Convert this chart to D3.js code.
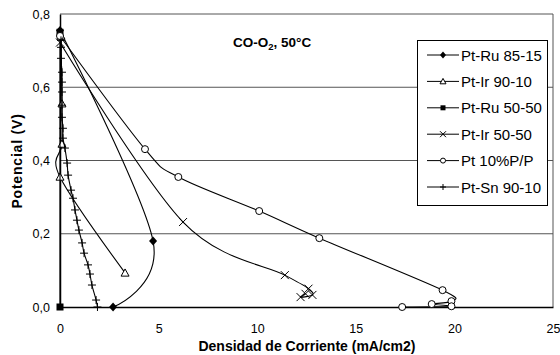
<!DOCTYPE html>
<html>
<head>
<meta charset="utf-8">
<script src="https://cdn.jsdelivr.net/npm/d3@7"></script>
<style>
  body { margin: 0; background: #fff; }
  text { font-family: "Liberation Sans", Arial, sans-serif; fill: #000; }
</style>
</head>
<body>
<svg id="chart"></svg>
<script>
// Data: [current density (mA/cm2), potential (V)]
const ptRu8515 = [[0, 0.755], [4.72, 0.18], [2.69, 0.0]];
const ptIr9010 = [[0.05, 0.74], [0.1, 0.555], [0.1, 0.445], [0.0, 0.355], [3.3, 0.093]];
const ptRu5050 = [[0, 0.75], [0, 0.0]];
const ptIr5050 = [[0, 0.722], [6.24, 0.232], [11.4, 0.087], [12.6, 0.05], [12.8, 0.033], [12.2, 0.027], [12.45, 0.036]];
const pt10 = [[0, 0.74], [4.31, 0.431], [6.0, 0.355], [10.1, 0.262], [13.15, 0.188], [19.4, 0.046], [19.85, 0.016], [18.85, 0.008], [19.85, 0.002], [17.35, 0.0]];
const ptSn9010 = [[0.05, 0.728], [0.05, 0.709], [0.05, 0.679], [0.1, 0.641], [0.1, 0.614], [0.1, 0.587], [0.1, 0.551],
  [0.1, 0.518], [0.15, 0.488], [0.15, 0.461], [0.25, 0.434], [0.36, 0.393], [0.41, 0.36], [0.56, 0.319], [0.66, 0.297],
  [0.76, 0.265], [0.86, 0.237], [0.96, 0.21], [1.12, 0.175], [1.22, 0.147], [1.42, 0.115], [1.52, 0.09], [1.62, 0.06],
  [1.83, 0.019], [1.9, 0.0]];

const seriesNames = ["Pt-Ru 85-15", "Pt-Ir 90-10", "Pt-Ru 50-50", "Pt-Ir 50-50", "Pt 10%P/P", "Pt-Sn 90-10"];
const seriesMarkers = ["diamond", "triangle", "square", "x", "circle", "plus"];
const seriesData = [ptRu8515, ptIr9010, ptRu5050, ptIr5050, pt10, ptSn9010];
const xTicks = [0, 5, 10, 15, 20, 25];
const yTicks = [0, 0.2, 0.4, 0.6, 0.8];

const width = 560, height = 355;
const svg = d3.select("#chart").attr("width", width).attr("height", height);

const x = d3.scaleLinear().domain([0, 25]).range([60, 553]);
const y = d3.scaleLinear().domain([0, 0.8]).range([307, 14]);
const fmtY = d => d3.format(".1f")(d).replace(".", ",");

// gridlines
svg.append("g").selectAll("line")
  .data(yTicks.filter(d => d > 0))
  .enter().append("line")
  .attr("x1", x(0)).attr("x2", x(25))
  .attr("y1", d => y(d)).attr("y2", d => y(d))
  .attr("stroke", "#555").attr("stroke-width", 1);

// plot area right border
svg.append("line")
  .attr("x1", x(25)).attr("x2", x(25)).attr("y1", y(0.8)).attr("y2", y(0))
  .attr("stroke", "#555");

// axes
const xAxis = svg.append("g").attr("transform", `translate(0,${y(0)})`)
  .call(d3.axisBottom(x).tickValues(xTicks).tickSize(0).tickPadding(17).tickFormat(d3.format("d")));
const yAxis = svg.append("g").attr("transform", `translate(${x(0)},0)`)
  .call(d3.axisLeft(y).tickValues(yTicks).tickSize(0).tickPadding(10).tickFormat(fmtY));
[xAxis, yAxis].forEach(a => {
  a.select(".domain").attr("stroke", "#000").attr("stroke-width", 1.5);
  a.selectAll("text").style("font-size", "12.5px").style("font-family", "Liberation Sans, Arial, sans-serif");
});

// marker shapes
function marker(g, type, s, cx, cy) {
  const h = s / 2;
  if (type === "diamond") {
    g.append("path").attr("d", `M${cx},${cy - h - 0.5}L${cx + h},${cy}L${cx},${cy + h + 0.5}L${cx - h},${cy}Z`).attr("fill", "#000");
  } else if (type === "triangle") {
    g.append("path").attr("d", `M${cx},${cy - h}L${cx + h},${cy + h * 0.8}L${cx - h},${cy + h * 0.8}Z`)
      .attr("fill", "#fff").attr("stroke", "#000").attr("stroke-width", 1);
  } else if (type === "square") {
    g.append("rect").attr("x", cx - h + 0.5).attr("y", cy - h + 0.5).attr("width", s - 1).attr("height", s - 1).attr("fill", "#000");
  } else if (type === "x") {
    g.append("path").attr("d", `M${cx - h},${cy - h}L${cx + h},${cy + h}M${cx - h},${cy + h}L${cx + h},${cy - h}`)
      .attr("stroke", "#000").attr("stroke-width", 1);
  } else if (type === "circle") {
    g.append("circle").attr("cx", cx).attr("cy", cy).attr("r", h - 0.5)
      .attr("fill", "#fff").attr("stroke", "#000").attr("stroke-width", 1);
  } else if (type === "plus") {
    g.append("path").attr("d", `M${cx - h},${cy}L${cx + h},${cy}M${cx},${cy - h}L${cx},${cy + h}`)
      .attr("stroke", "#000").attr("stroke-width", 1);
  }
}

// smoothed lines like the spreadsheet's
const line = d3.line()
  .x(d => x(d[0]))
  .y(d => y(d[1]))
  .curve(d3.curveCardinal.tension(0));

seriesData.forEach((data, i) => {
  const g = svg.append("g");
  g.append("path")
    .attr("d", line(data))
    .attr("fill", "none")
    .attr("stroke", "#000")
    .attr("stroke-width", 1.1);
  data.forEach(d => marker(g, seriesMarkers[i], 8, x(d[0]), y(d[1])));
});

// title
const title = svg.append("text")
  .attr("x", 233).attr("y", 47)
  .style("font-size", "13.5px").style("font-weight", "bold");
title.append("tspan").text("CO-O");
title.append("tspan").attr("dy", 3).style("font-size", "9.5px").text("2");
title.append("tspan").attr("dy", -3).text(", 50°C");

// axis titles
svg.append("text")
  .attr("x", 307).attr("y", 351)
  .attr("text-anchor", "middle")
  .style("font-size", "14px").style("font-weight", "bold")
  .text("Densidad de Corriente (mA/cm2)");

svg.append("text")
  .attr("transform", "translate(22,161) rotate(-90)")
  .attr("text-anchor", "middle")
  .style("font-size", "14px").style("font-weight", "bold")
  .style("letter-spacing", "0.8px")
  .text("Potencial (V)");

// legend
const legend = svg.append("g");
legend.append("rect")
  .attr("x", 417.5).attr("y", 40.5).attr("width", 130).attr("height", 165)
  .attr("fill", "#fff").attr("stroke", "#000");
seriesNames.forEach((name, i) => {
  const ly = 55 + i * 26.4;
  const g = legend.append("g");
  g.append("line").attr("x1", 427).attr("x2", 459).attr("y1", ly).attr("y2", ly).attr("stroke", "#000");
  marker(g, seriesMarkers[i], 6, 443, ly);
  g.append("text").attr("x", 461).attr("y", ly + 5.5)
    .style("font-size", "15px")
    .text(name);
});
</script>
</body>
</html>
